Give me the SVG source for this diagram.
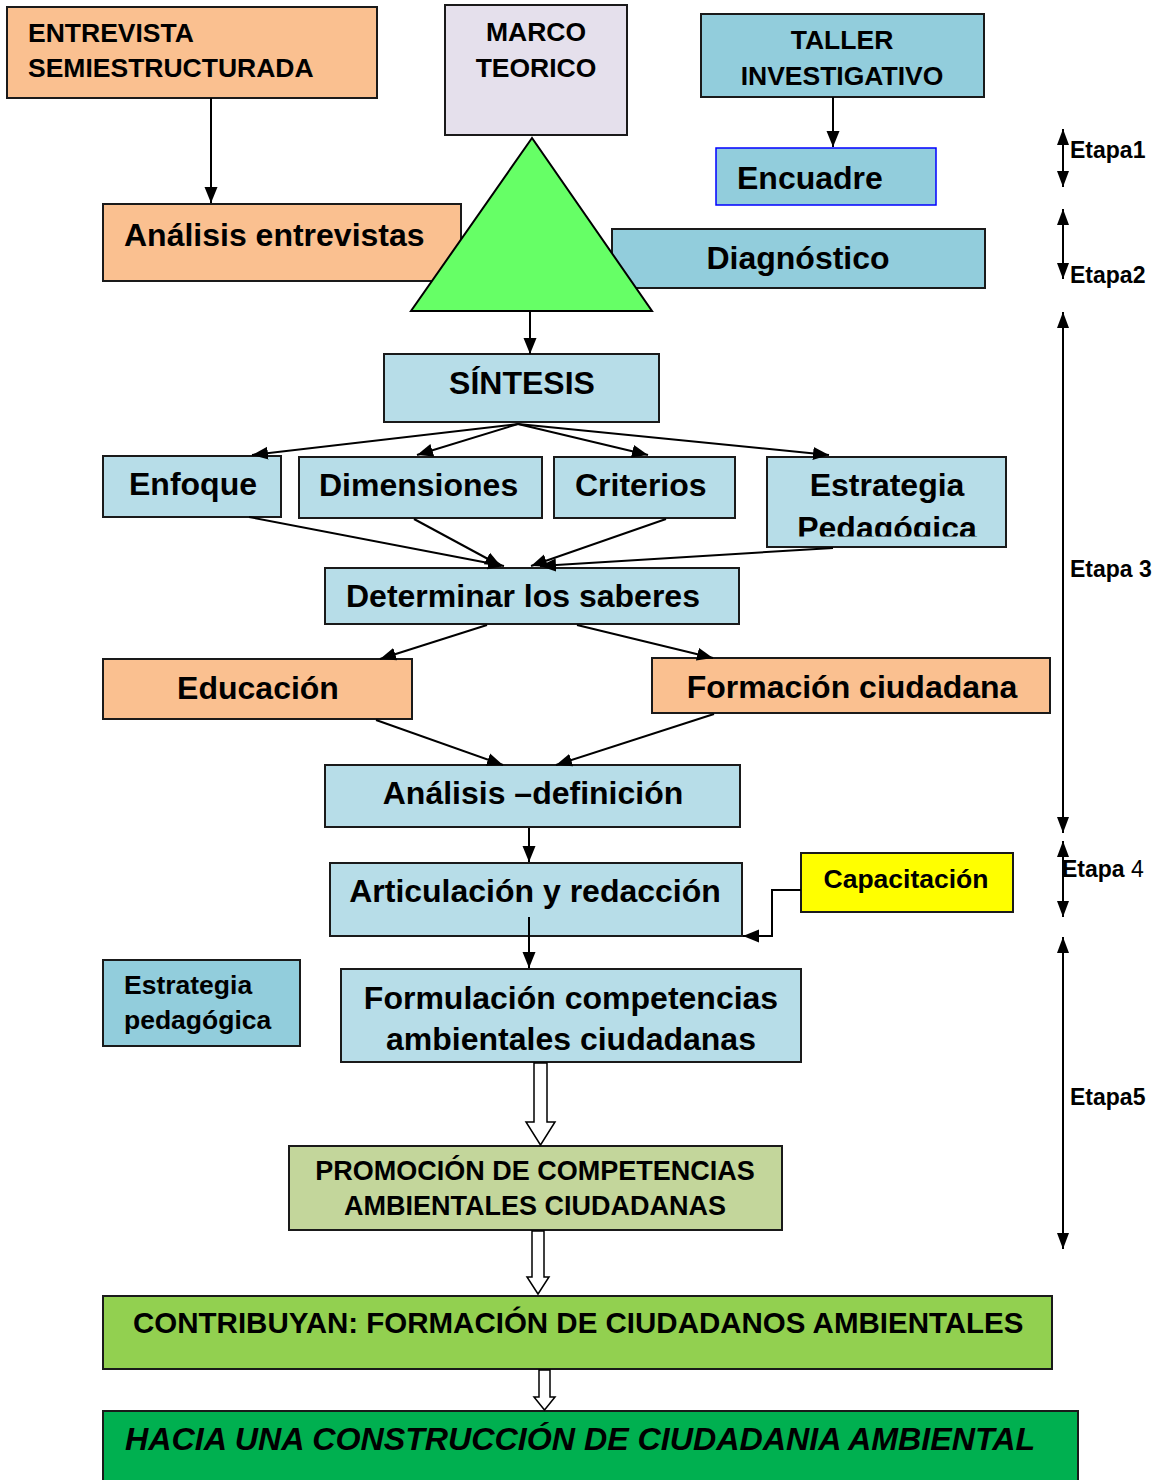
<svg xmlns="http://www.w3.org/2000/svg" width="1163" height="1480" viewBox="0 0 1163 1480">
<style>
.bx{stroke:#1a1a1a;stroke-width:2}
.peach{fill:#FAC090}
.lb{fill:#B7DDE8}
.mb{fill:#92CDDC}
text{font-family:"Liberation Sans",Arial,sans-serif;font-weight:bold;fill:#000}
.t26{font-size:26.5px}
.t32{font-size:32px}
.t22{font-size:23px}
.c{text-anchor:middle}
.cn line,.cn polyline{stroke:#000;stroke-width:2;fill:none}
.hollow{fill:#fff;stroke:#000;stroke-width:1.5}
</style>
<defs>
<marker id="ah" markerUnits="userSpaceOnUse" markerWidth="16" markerHeight="14" refX="16" refY="7" orient="auto">
<path d="M0,0.5 L16,7 L0,13.5 z" fill="#000"/>
</marker>
<marker id="eh" markerUnits="userSpaceOnUse" markerWidth="16" markerHeight="14" refX="16" refY="7" orient="auto-start-reverse">
<path d="M0,1 L16,7 L0,13 z" fill="#000"/>
</marker>
<clipPath id="clipEP"><rect x="767" y="457" width="239" height="79.5"/></clipPath>
</defs>
<rect width="1163" height="1480" fill="#fff"/>

<g id="entrevista"><rect class="bx peach" x="7" y="7" width="370" height="91"/>
<text class="t26" x="28" y="42">ENTREVISTA</text><text class="t26" x="28" y="77">SEMIESTRUCTURADA</text></g>

<g id="marco"><rect class="bx" fill="#E5E0EC" x="445" y="5" width="182" height="130"/>
<text class="t26 c" x="536" y="41">MARCO</text><text class="t26 c" x="536" y="77">TEORICO</text></g>

<g id="taller"><rect class="bx mb" x="701" y="14" width="283" height="83"/>
<text class="t26 c" x="842" y="49">TALLER</text><text class="t26 c" x="842" y="85">INVESTIGATIVO</text></g>

<g id="encuadre"><rect class="mb" stroke="#0000FF" stroke-width="1.5" x="716" y="148" width="220" height="57"/>
<text class="t32" x="737" y="189">Encuadre</text></g>

<g id="analisis-entrevistas"><rect class="bx peach" x="103" y="204" width="358" height="77"/>
<text class="t32" x="124" y="246">Análisis entrevistas</text></g>

<g id="diagnostico"><rect class="bx mb" x="612" y="229" width="373" height="59"/>
<text class="t32 c" x="798" y="269">Diagnóstico</text></g>

<g id="triangulo"><polygon points="532,138 411,311 652,311" fill="#66FF66" stroke="#000" stroke-width="2"/></g>

<g id="sintesis"><rect class="bx lb" x="384" y="354" width="275" height="68"/>
<text class="t32 c" x="522" y="394">SÍNTESIS</text></g>

<g id="enfoque"><rect class="bx lb" x="103" y="456" width="178" height="61"/>
<text class="t32" x="129" y="495">Enfoque</text></g>

<g id="dimensiones"><rect class="bx lb" x="299" y="457" width="243" height="61"/>
<text class="t32" x="319" y="496">Dimensiones</text></g>

<g id="criterios"><rect class="bx lb" x="554" y="457" width="181" height="61"/>
<text class="t32" x="575" y="496">Criterios</text></g>

<g id="estrategia-pedagogica-1"><rect class="bx lb" x="767" y="457" width="239" height="90"/>
<g clip-path="url(#clipEP)"><text class="t32 c" x="887" y="496">Estrategia</text><text class="t32 c" x="887" y="539">Pedagógica</text></g></g>

<g id="determinar"><rect class="bx lb" x="325" y="568" width="414" height="56"/>
<text class="t32" x="346" y="607">Determinar los saberes</text></g>

<g id="educacion"><rect class="bx peach" x="103" y="659" width="309" height="60"/>
<text class="t32 c" x="258" y="699">Educación</text></g>

<g id="formacion"><rect class="bx peach" x="652" y="658" width="398" height="55"/>
<text class="t32 c" x="852" y="698">Formación ciudadana</text></g>

<g id="analisis-definicion"><rect class="bx lb" x="325" y="765" width="415" height="62"/>
<text class="t32 c" x="533" y="804">Análisis –definición</text></g>

<g id="articulacion"><rect class="bx lb" x="330" y="863" width="412" height="73"/>
<text class="t32 c" x="535" y="902">Articulación y redacción</text></g>

<g id="capacitacion"><rect class="bx" fill="#FFFF00" x="801" y="853" width="212" height="59"/>
<text class="t26 c" x="906" y="888">Capacitación</text></g>

<g id="estrategia-pedagogica-2"><rect class="bx mb" x="103" y="960" width="197" height="86"/>
<text class="t26" x="124" y="994">Estrategia</text><text class="t26" x="124" y="1029">pedagógica</text></g>

<g id="formulacion"><rect class="bx lb" x="341" y="969" width="460" height="93"/>
<text class="t32 c" x="571" y="1009">Formulación competencias</text><text class="t32 c" x="571" y="1050">ambientales ciudadanas</text></g>

<g id="promocion"><rect class="bx" fill="#C3D69B" x="289" y="1146" width="493" height="84"/>
<text class="c" x="535" y="1180" style="font-size:27px">PROMOCIÓN DE COMPETENCIAS</text><text class="c" x="535" y="1215" style="font-size:27px">AMBIENTALES CIUDADANAS</text></g>

<g id="contribuyan"><rect class="bx" fill="#92D050" x="103" y="1296" width="949" height="73"/>
<text x="133" y="1333" style="font-size:29.5px">CONTRIBUYAN: FORMACIÓN DE CIUDADANOS AMBIENTALES</text></g>

<g id="hacia"><rect class="bx" fill="#00B050" x="103" y="1411" width="975" height="80"/>
<text x="125" y="1450" style="font-size:32.2px;font-style:italic">HACIA UNA CONSTRUCCIÓN DE CIUDADANIA AMBIENTAL</text></g>

<g id="connectors" class="cn">
<line x1="211" y1="98" x2="211" y2="203" marker-end="url(#ah)"/>
<line x1="833" y1="97" x2="833" y2="147" marker-end="url(#ah)"/>
<line x1="530" y1="311" x2="530" y2="354" marker-end="url(#ah)"/>
<line x1="518" y1="424" x2="252" y2="455" marker-end="url(#ah)"/>
<line x1="518" y1="424" x2="417" y2="455" marker-end="url(#ah)"/>
<line x1="518" y1="424" x2="648" y2="455" marker-end="url(#ah)"/>
<line x1="518" y1="424" x2="829" y2="455" marker-end="url(#ah)"/>
<line x1="249" y1="517" x2="504" y2="566" marker-end="url(#ah)"/>
<line x1="414" y1="519" x2="501" y2="566" marker-end="url(#ah)"/>
<line x1="666" y1="519" x2="531" y2="566" marker-end="url(#ah)"/>
<line x1="833" y1="548" x2="540" y2="566" marker-end="url(#ah)"/>
<line x1="487" y1="625" x2="380" y2="659" marker-end="url(#ah)"/>
<line x1="577" y1="625" x2="713" y2="658" marker-end="url(#ah)"/>
<line x1="376" y1="720" x2="503" y2="765" marker-end="url(#ah)"/>
<line x1="714" y1="714" x2="556" y2="765" marker-end="url(#ah)"/>
<line x1="529" y1="828" x2="529" y2="862" marker-end="url(#ah)"/>
<line x1="529" y1="917" x2="529" y2="968" marker-end="url(#ah)"/>
<polyline points="801,890 772,890 772,936 743,936" marker-end="url(#ah)"/>
<polygon class="hollow" points="534,1063 547,1063 547,1122 555,1122 540.5,1145 526,1122 534,1122"/>
<polygon class="hollow" points="532,1231 544,1231 544,1277 549,1277 538,1294 527,1277 532,1277"/>
<polygon class="hollow" points="539,1370 550,1370 550,1397 555,1397 544.5,1410 534,1397 539,1397"/>
<line x1="1063" y1="129" x2="1063" y2="187" marker-start="url(#eh)" marker-end="url(#eh)"/>
<line x1="1063" y1="209" x2="1063" y2="279" marker-start="url(#eh)" marker-end="url(#eh)"/>
<line x1="1063" y1="312" x2="1063" y2="833" marker-start="url(#eh)" marker-end="url(#eh)"/>
<line x1="1063" y1="841" x2="1063" y2="917" marker-start="url(#eh)" marker-end="url(#eh)"/>
<line x1="1063" y1="937" x2="1063" y2="1249" marker-start="url(#eh)" marker-end="url(#eh)"/>
</g>

<g id="etapas">
<text class="t22" x="1070" y="158">Etapa1</text>
<text class="t22" x="1070" y="283">Etapa2</text>
<text class="t22" x="1070" y="577">Etapa 3</text>
<text class="t22" x="1062" y="877">Etapa<tspan style="font-weight:normal"> 4</tspan></text>
<text class="t22" x="1070" y="1105">Etapa5</text>
</g>
</svg>
